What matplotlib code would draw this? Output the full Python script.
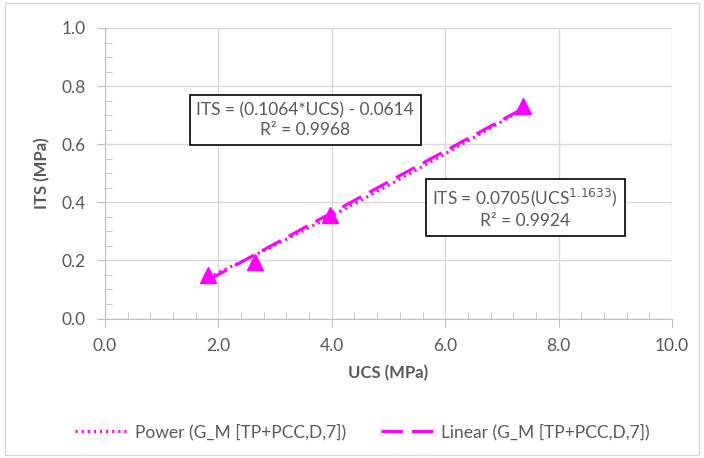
import matplotlib
matplotlib.use("Agg")
import matplotlib.pyplot as plt
import numpy as np
from matplotlib.ticker import MultipleLocator, FormatStrFormatter
from matplotlib.patches import Rectangle

ucs = [1.82, 2.65, 3.97, 7.37]
its = [0.150, 0.195, 0.358, 0.730]
lin_slope, lin_icpt = 0.1064, -0.0614
pow_a, pow_b = 0.0705, 1.1633
legend_labels = ["Power (G_M [TP+PCC,D,7])", "Linear (G_M [TP+PCC,D,7])"]
x_label = "UCS (MPa)"
y_label = "ITS (MPa)"

plt.rcParams['font.family'] = ['Lato', 'DejaVu Sans']
grey = '#595959'
mag = '#FF00FF'

fig = plt.figure(figsize=(7.04, 4.58), dpi=100)
ax = fig.add_axes([105/704, 1-318.5/458, (672-105)/704, (318.5-28)/458])

xs = np.linspace(min(ucs), max(ucs), 200)
ax.plot(xs, pow_a*xs**pow_b, color=mag, lw=2.2, ls=(0, (0.7, 1.3)),
        label=legend_labels[0], zorder=3)
ax.plot(xs, lin_slope*xs+lin_icpt, color=mag, lw=2.2, ls=(0, (7, 3)),
        label=legend_labels[1], zorder=3)
ax.plot(ucs, its, ls='none', marker='^', ms=11, color=mag, zorder=4)

ax.set_xlim(0, 10)
ax.set_ylim(0, 1.0)
ax.xaxis.set_major_locator(MultipleLocator(2))
ax.xaxis.set_minor_locator(MultipleLocator(0.4))
ax.yaxis.set_major_locator(MultipleLocator(0.2))
ax.yaxis.set_minor_locator(MultipleLocator(0.05))
ax.xaxis.set_major_formatter(FormatStrFormatter('%.1f'))
ax.yaxis.set_major_formatter(FormatStrFormatter('%.1f'))
ax.grid(True, which='major', color='#D9D9D9', lw=1)
ax.set_axisbelow(True)
for s in ['top', 'right']:
    ax.spines[s].set_visible(False)
for s in ['left', 'bottom']:
    ax.spines[s].set_color('#BFBFBF')
ax.tick_params(which='major', direction='out', length=6, color='#BFBFBF',
               labelcolor=grey, labelsize=12.5, pad=8)
ax.tick_params(which='minor', direction='in', length=5, color='#BFBFBF')

ax.set_xlabel(x_label, fontsize=12, fontweight='bold', color=grey, labelpad=8)
ax.set_ylabel(y_label, fontsize=12, fontweight='bold', color=grey, labelpad=8)

bbox = dict(boxstyle='square,pad=0.38', fc='white', ec='black', lw=1.2)
ax.text(3.53, 0.683,
        "ITS = (%.4f*UCS) - %.4f\nR² = 0.9968" % (lin_slope, -lin_icpt),
        ha='center', va='center', fontsize=12.5, color=grey, bbox=bbox,
        linespacing=1.3, zorder=5)
ax.text(7.41, 0.38,
        "ITS = %.4f(UCS$^{%.4f}$)\nR² = 0.9924" % (pow_a, pow_b),
        ha='center', va='center', fontsize=12.5, color=grey, bbox=bbox,
        linespacing=1.3, zorder=5)

fig.legend(loc='center', bbox_to_anchor=(362/704, 1-432/458), ncol=2,
           frameon=False, fontsize=12.5, labelcolor=grey, handlelength=3.0,
           handletextpad=0.45, columnspacing=2.0)

fig.patches.append(Rectangle((5/704, 3/458), 1-10/704, 1-6/458,
                             transform=fig.transFigure, fill=False,
                             ec='#D9D9D9', lw=1))

fig.savefig('out.png', dpi=100)
